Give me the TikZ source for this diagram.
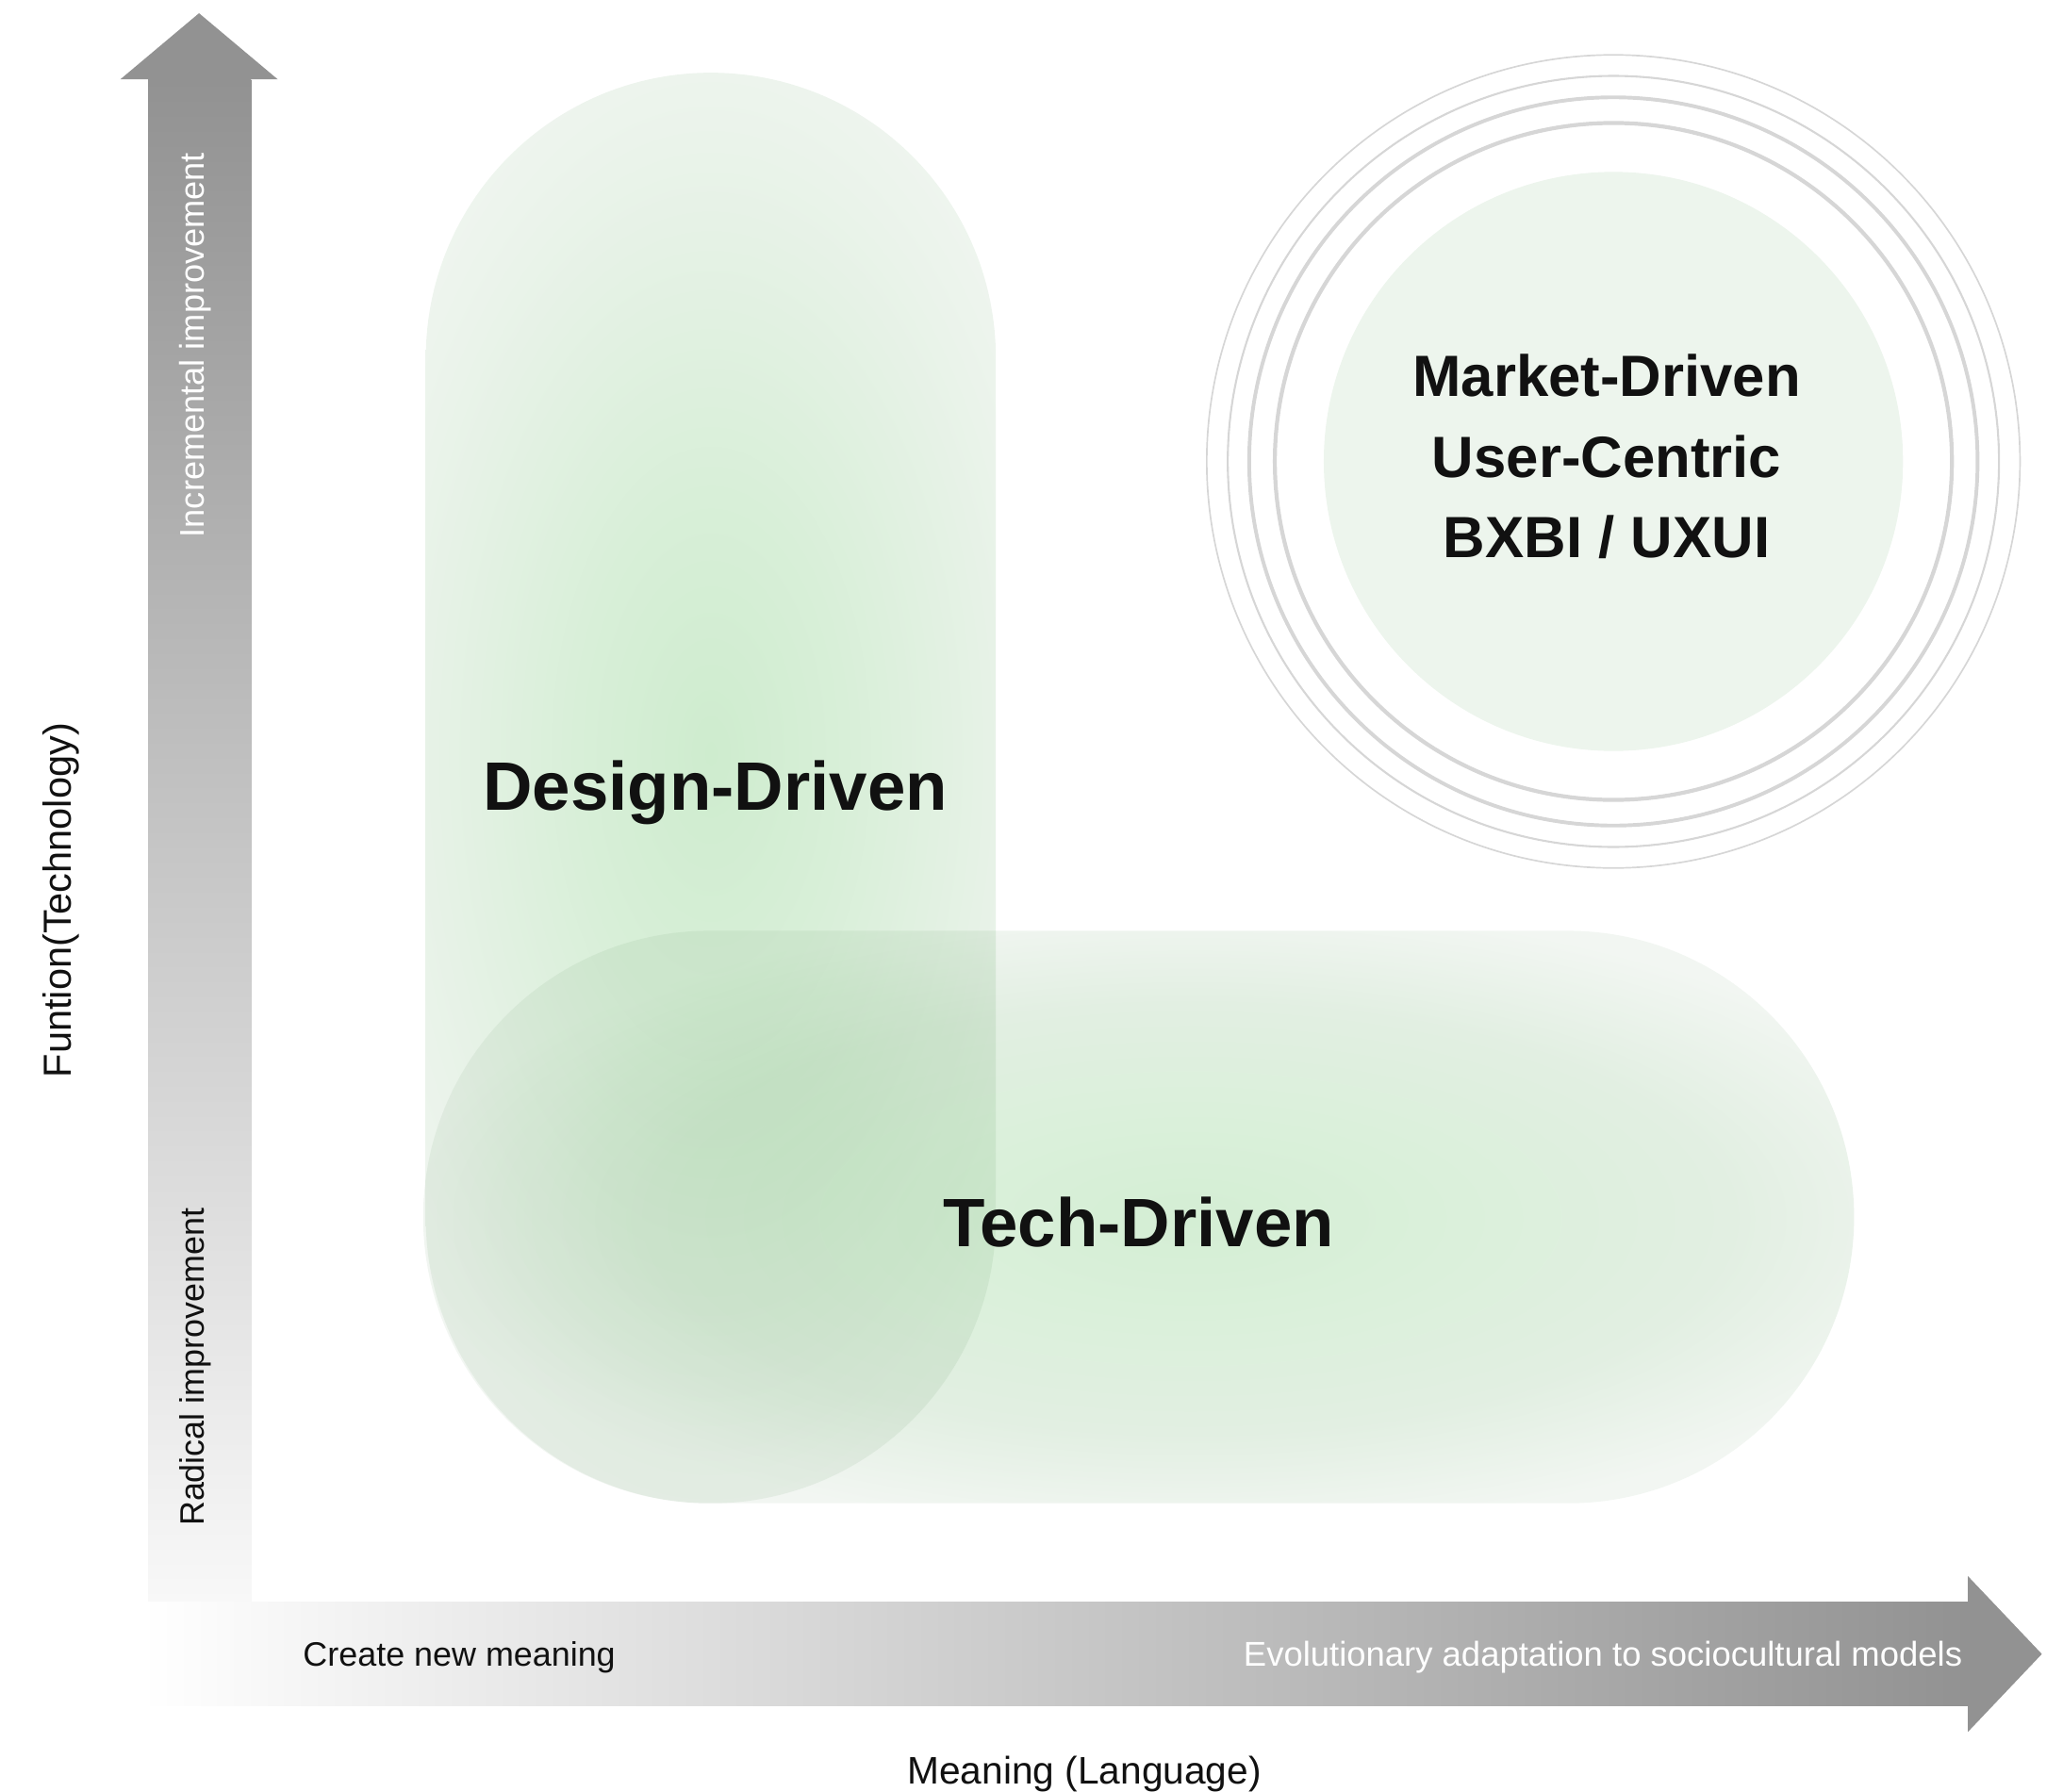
\documentclass[tikz,border=0pt]{standalone}
\usepackage{fontspec}
\setmainfont{Liberation Sans}
\definecolor{axisgray}{RGB}{146,146,146}
\definecolor{ringgray}{RGB}{214,214,214}
\definecolor{marketfill}{RGB}{237,245,237}
\definecolor{inktext}{RGB}{17,17,17}
\pgfdeclareradialshading{designglow}{\pgfpoint{0bp}{0bp}}{rgb(0bp)=(0.808,0.925,0.808); rgb(8bp)=(0.847,0.937,0.847); rgb(19bp)=(0.918,0.953,0.918); rgb(25bp)=(0.949,0.965,0.949); rgb(50bp)=(0.949,0.965,0.949)}
\pgfdeclareradialshading{techglow}{\pgfpoint{0bp}{0bp}}{rgb(0bp)=(0.831,0.933,0.831); rgb(7.5bp)=(0.855,0.941,0.855); rgb(17bp)=(0.886,0.937,0.886); rgb(25bp)=(0.949,0.965,0.949); rgb(50bp)=(0.949,0.965,0.949)}
\tikzset{
  axislabel/.style={font=\fontsize{25.6}{30}\selectfont, text=inktext, inner sep=0pt},
  axistitle/.style={font=\fontsize{29}{34}\selectfont, text=inktext, inner sep=0pt},
  bigtitle/.style={font=\fontsize{51.8}{60}\selectfont\bfseries, text=inktext, inner sep=0pt},
  markettext/.style={font=\fontsize{44}{61}\selectfont\bfseries, text=inktext, inner sep=0pt, align=center},
  ring/.style={draw=ringgray}
}
\begin{document}
\begin{tikzpicture}[x=1pt,y=-1pt]
\useasboundingbox (0,0) rectangle (1560,1355.3);
% vertical axis arrow
\shade[top color=axisgray, bottom color=white] (112,60) rectangle (190,1290);
\fill[axisgray] (91,60) -- (150.5,10) -- (210,60) -- cycle;
% horizontal axis arrow
\shade[left color=white, right color=axisgray] (107,1212) rectangle (1488,1290);
\fill[axisgray] (1488,1192) -- (1544,1251) -- (1488,1310) -- cycle;
% design-driven pill
\begin{scope}
  \clip[rounded corners=215.5pt] (322,55) rectangle (753,1137);
  \shade[shading=designglow] (220,-40) rectangle (855,1180);
\end{scope}
% tech-driven pill
\begin{scope}[blend mode=multiply]
  \clip[rounded corners=216.5pt] (320,704) rectangle (1402,1137);
  \shade[shading=techglow] (300,683) rectangle (1500,1160);
\end{scope}
% market-driven circle and rings
\fill[marketfill] (1220,349) circle[radius=219pt];
\draw[ring, line width=1.2pt] (1220,349) circle[radius=307.5pt];
\draw[ring, line width=1.5pt] (1220,349) circle[radius=291.6pt];
\draw[ring, line width=2.8pt] (1220,349) circle[radius=275.4pt];
\draw[ring, line width=3pt] (1220,349) circle[radius=256pt];
% labels
\node[bigtitle, anchor=base] (design) at (541,613) {Design-Driven};
\node[bigtitle, anchor=base] (tech) at (861,943) {Tech-Driven};
\node[markettext] (market) at (1215,345.5) {Market-Driven\\User-Centric\\BXBI / UXUI};
\node[axislabel, rotate=90, text=white, font=\fontsize{25.8}{30}\selectfont] (incr) at (148,261) {Incremental improvement};
\node[axislabel, rotate=90] (radical) at (148,1034) {Radical improvement};
\node[axistitle, rotate=90, font=\fontsize{29.6}{34}\selectfont] (funtion) at (46,681) {Funtion(Technology)};
\node[axislabel, anchor=base west] (create) at (229,1260) {Create new meaning};
\node[axislabel, anchor=base east, text=white, font=\fontsize{26}{30}\selectfont] (evol) at (1484,1260) {Evolutionary adaptation to sociocultural models};
\node[axistitle, anchor=base] (meaning) at (820,1349) {Meaning (Language)};
\end{tikzpicture}
\end{document}
